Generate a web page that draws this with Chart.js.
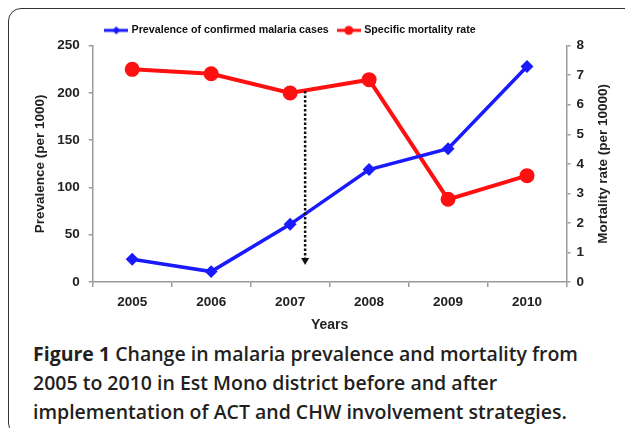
<!DOCTYPE html>
<html>
<head>
<meta charset="utf-8">
<script src="https://cdn.jsdelivr.net/npm/chart.js@4.4.1/dist/chart.umd.min.js"></script>
<style>
  html, body { margin: 0; padding: 0; background: #fff; width: 625px; height: 428px; overflow: hidden; }
  .frame { position: absolute; left: 8px; top: 8px; width: 660px; height: 426px; border: 1.5px solid #333; border-radius: 13px; }
  .wrap { position: absolute; left: 0; top: 0; width: 625px; height: 336px; }
  .caption { position: absolute; left: 33px; top: 339px; width: 600px; font-family: "Open Sans", sans-serif; font-size: 19.5px; line-height: 29px; font-weight: 600; color: #231f20; white-space: nowrap; }
  .caption b { font-weight: 700; }
</style>
</head>
<body>
<div class="frame"></div>
<div class="wrap"><canvas id="myChart"></canvas></div>
<div class="caption"><b>Figure 1</b> Change in malaria prevalence and mortality from<br>2005 to 2010 in Est Mono district before and after<br>implementation of ACT and CHW involvement strategies.</div>
<script>
var years = ['2005', '2006', '2007', '2008', '2009', '2010']
var prevalence = [24, 11, 61, 119, 141, 228]
var mortality = [7.2, 7.05, 6.4, 6.85, 2.8, 3.6]
var prevTicks = [0, 50, 100, 150, 200, 250]
var mortTicks = [0, 1, 2, 3, 4, 5, 6, 7, 8]

// where the dotted arrow sits (category index, left axis values)
var arrowAt = 2.19
var arrowTop = 202
var arrowBottom = 18

var axisColor = '#9a9a9a'
var textColor = '#222'
var tickFont = { family: 'Liberation Sans, Arial', size: 13.5, weight: 'bold' }
var titleFont = { family: 'Liberation Sans, Arial', size: 13.5, weight: 'bold' }
var rightTitle = 'Mortality rate (per 10000)'
var legendShift = 18

function legendIcon(color, style) {
  let c = document.createElement('canvas')
  c.width = 24
  c.height = 12
  let ctx = c.getContext('2d')
  ctx.strokeStyle = color
  ctx.fillStyle = color
  ctx.lineWidth = 3
  ctx.beginPath()
  ctx.moveTo(0, 6)
  ctx.lineTo(24, 6)
  ctx.stroke()
  ctx.beginPath()
  if (style == 'circle') {
    ctx.arc(12, 6, 4.5, 0, Math.PI * 2)
  } else {
    ctx.moveTo(12, 2); ctx.lineTo(16, 6); ctx.lineTo(12, 10); ctx.lineTo(8, 6)
    ctx.closePath()
  }
  ctx.fill()
  return c
}
var icons = [legendIcon('#1a1aff', 'diamond'), legendIcon('#ff1010', 'circle')]

var extras = {
  id: 'extras',
  afterLayout(chart) {
    // legend sits a bit left of centre in the original
    chart.legend.left -= legendShift
    chart.legend.right -= legendShift
  },
  afterDatasetsDraw(chart) {
    let x = chart.scales.x
    let y = chart.scales.y
    let px = x.getPixelForValue(2) + (arrowAt - 2) * (x.getPixelForValue(3) - x.getPixelForValue(2))
    let top = y.getPixelForValue(arrowTop)
    let bottom = y.getPixelForValue(arrowBottom)
    let ctx = chart.ctx
    ctx.save()
    ctx.strokeStyle = '#111'
    ctx.fillStyle = '#111'
    ctx.lineWidth = 2.5
    ctx.setLineDash([2.5, 2])
    ctx.beginPath()
    ctx.moveTo(px, top)
    ctx.lineTo(px, bottom - 6)
    ctx.stroke()
    ctx.setLineDash([])
    ctx.beginPath()
    ctx.moveTo(px - 4, bottom - 7)
    ctx.lineTo(px + 4, bottom - 7)
    ctx.lineTo(px, bottom)
    ctx.closePath()
    ctx.fill()
    ctx.restore()
  },
  afterDraw(chart) {
    // right axis title reads bottom-to-top like the left one
    let y1 = chart.scales.y1
    let ctx = chart.ctx
    ctx.save()
    ctx.translate(y1.right + 13, (y1.top + y1.bottom) / 2)
    ctx.rotate(-Math.PI / 2)
    ctx.font = 'bold 13.5px "Liberation Sans", Arial'
    ctx.fillStyle = textColor
    ctx.textAlign = 'center'
    ctx.textBaseline = 'middle'
    ctx.fillText(rightTitle, 0, 0)
    ctx.restore()
  },
}

new Chart('myChart', {
  type: 'line',
  data: {
    labels: years,
    datasets: [
      {
        label: 'Prevalence of confirmed malaria cases',
        data: prevalence,
        yAxisID: 'y',
        borderColor: '#1a1aff',
        backgroundColor: '#1a1aff',
        borderWidth: 3.5,
        pointStyle: 'rectRot',
        pointRadius: 4,
        tension: 0,
      },
      {
        label: 'Specific mortality rate',
        data: mortality,
        yAxisID: 'y1',
        borderColor: '#ff1010',
        backgroundColor: '#ff1010',
        borderWidth: 4,
        pointStyle: 'circle',
        pointRadius: 5.5,
        tension: 0,
      },
    ],
  },
  options: {
    responsive: true,
    maintainAspectRatio: false,
    animation: false,
    layout: { padding: { left: 28, right: 35, top: 15, bottom: 2 } },
    plugins: {
      legend: {
        position: 'top',
        labels: {
          usePointStyle: true,
          pointStyleWidth: 20,
          padding: 10,
          color: '#111',
          font: { family: 'Liberation Sans, Arial', size: 10.7, weight: 'bold' },
          generateLabels(chart) {
            let items = Chart.defaults.plugins.legend.labels.generateLabels(chart)
            items.forEach((it, i) => { it.pointStyle = icons[i] })
            return items
          },
        },
      },
      tooltip: { enabled: false },
    },
    scales: {
      x: {
        offset: true,
        grid: { offset: true, drawOnChartArea: false, color: axisColor, tickLength: 5, lineWidth: 1.5 },
        border: { color: axisColor, width: 1.5 },
        ticks: { color: textColor, font: tickFont, padding: 7, maxRotation: 0 },
        title: { display: true, text: 'Years', color: textColor, font: { family: 'Liberation Sans, Arial', size: 14, weight: 'bold' }, padding: { top: 0, bottom: 0 } },
      },
      y: {
        position: 'left',
        min: 0,
        max: 250,
        afterBuildTicks(axis) { axis.ticks = prevTicks.map(v => ({ value: v })) },
        grid: { drawOnChartArea: false, color: axisColor, tickLength: 4, lineWidth: 1.5 },
        border: { color: axisColor, width: 1.5 },
        ticks: { color: textColor, font: tickFont, padding: 9 },
        title: { display: true, text: 'Prevalence (per 1000)', color: textColor, font: titleFont, padding: { top: 4, bottom: 0 } },
      },
      y1: {
        position: 'right',
        min: 0,
        max: 8,
        afterBuildTicks(axis) { axis.ticks = mortTicks.map(v => ({ value: v })) },
        grid: { drawOnChartArea: false, color: axisColor, tickLength: 4, lineWidth: 1.5 },
        border: { color: axisColor, width: 1.5 },
        ticks: { color: textColor, font: tickFont, padding: 6 },
      },
    },
  },
  plugins: [extras],
})
</script>
</body>
</html>
